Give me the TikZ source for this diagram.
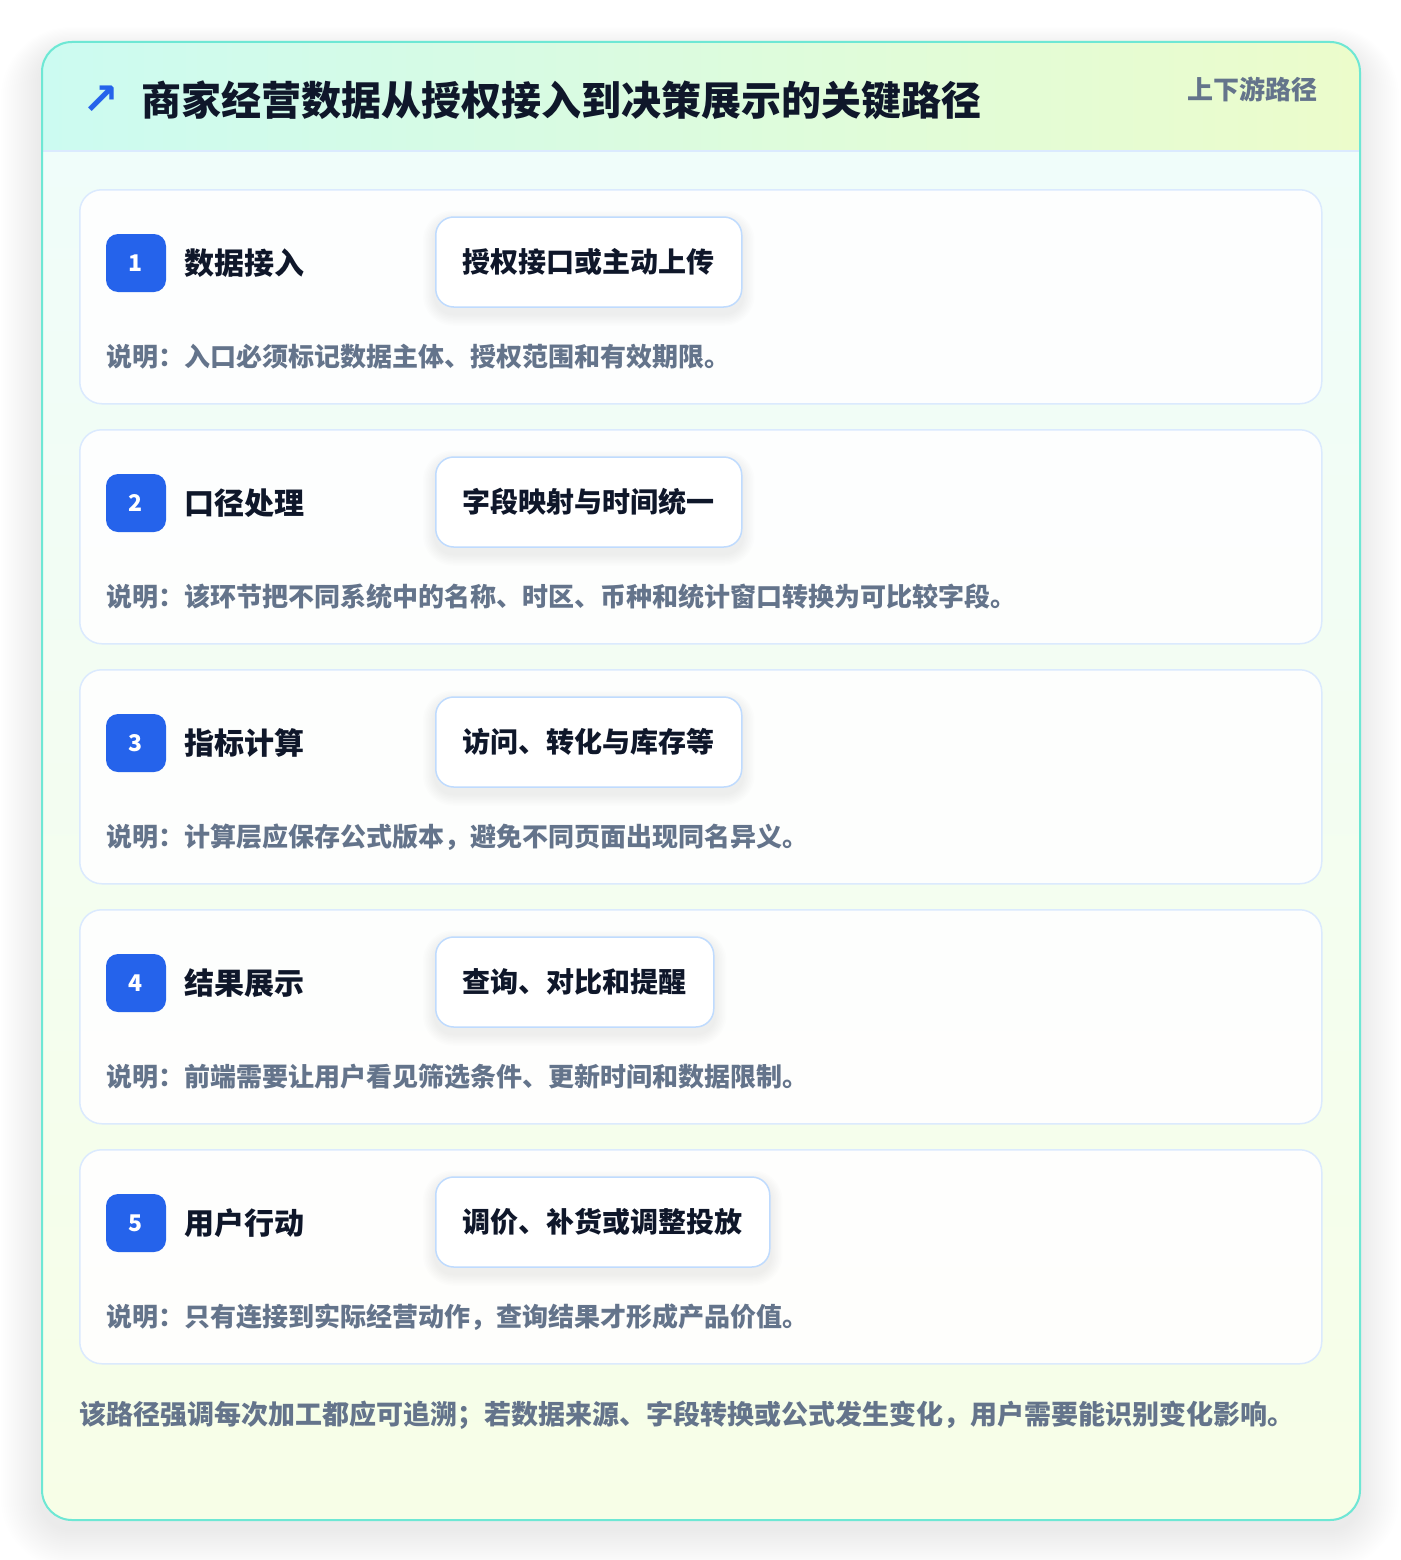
\documentclass[tikz,border=0pt]{standalone}
\usepackage{fontspec}
\setmainfont{Noto Sans CJK SC}
\newfontfamily\symfont{DejaVu Sans}
\usetikzlibrary{calc}
\definecolor{outerborder}{HTML}{6EE7D4}
\definecolor{headL}{HTML}{CCFBF1}
\definecolor{headR}{HTML}{ECFCCB}
\definecolor{bodyT}{HTML}{F0FDFA}
\definecolor{bodyB}{HTML}{F7FEE7}
\definecolor{cardborder}{HTML}{DBEAFE}
\definecolor{pillborder}{HTML}{BFDBFE}
\definecolor{badgeblue}{HTML}{2563EB}
\definecolor{darktext}{HTML}{0F172A}
\definecolor{graytext}{HTML}{64748B}
\tikzset{
  cardbox/.style={draw=cardborder, line width=1.5pt, fill=white, fill opacity=0.9, draw opacity=1, rounded corners=22pt, minimum width=1242pt, minimum height=214pt, anchor=north west, inner sep=0pt},
  badgebox/.style={fill=badgeblue, rounded corners=12pt, minimum width=60pt, minimum height=58pt, inner sep=0pt, text=white, font=\bfseries\fontsize{23}{26}\selectfont},
  steptitle/.style={anchor=west, inner sep=0pt, text=darktext, font=\bfseries\fontsize{30}{36}\selectfont},
  pillbox/.style={draw=pillborder, line width=1.5pt, fill=white, rounded corners=18pt, minimum height=90pt, inner xsep=27pt, anchor=west, text=darktext, font=\bfseries\fontsize{28}{34}\selectfont},
  desctext/.style={anchor=west, inner sep=0pt, text=graytext, font=\bfseries\fontsize{26}{30}\selectfont},
}
\begin{document}
\begin{tikzpicture}[x=1pt,y=-1pt]
\useasboundingbox (0,0) rectangle (1400,1560);
\fill[white] (0,0) rectangle (1400,1560);
% outer shadow
\foreach \k in {1,...,20}{
  \fill[black, opacity=0.005, rounded corners=30pt+\k*2pt] (41-\k*2,41-\k*1.2+10) rectangle (1359+\k*2,1519+\k*2+10);
}
% outer card background
\begin{scope}
  \clip[rounded corners=30pt] (41,41) rectangle (1359,1519);
  \shade[left color=headL, right color=headR] (41,41) rectangle (1359,151);
  \shade[top color=bodyT, bottom color=bodyB] (41,151) rectangle (1359,1519);
  \draw[cardborder, line width=1.5pt] (41,151) -- (1359,151);
\end{scope}
\node[draw=outerborder, line width=2pt, rounded corners=30pt, minimum width=1318pt, minimum height=1478pt, anchor=north west, inner sep=0pt] (outer) at (41,41) {};
% header
\node[anchor=center, inner sep=0pt, text=badgeblue, font=\symfont\bfseries\fontsize{44}{48}\selectfont] (arrow) at (101,100) {↗};
\node[anchor=west, inner sep=0pt, text=darktext, font=\bfseries\fontsize{40}{48}\selectfont] (title) at (141,100) {商家经营数据从授权接入到决策展示的关键路径};
\node[anchor=east, inner sep=0pt, text=graytext, font=\bfseries\fontsize{26}{30}\selectfont] (tag) at (1318,89) {上下游路径};
% cards
\foreach \i/\ttl/\pl/\desc in {
  1/数据接入/授权接口或主动上传/说明：入口必须标记数据主体、授权范围和有效期限。,
  2/口径处理/字段映射与时间统一/说明：该环节把不同系统中的名称、时区、币种和统计窗口转换为可比较字段。,
  3/指标计算/访问、转化与库存等/说明：计算层应保存公式版本，避免不同页面出现同名异义。,
  4/结果展示/查询、对比和提醒/说明：前端需要让用户看见筛选条件、更新时间和数据限制。,
  5/用户行动/调价、补货或调整投放/说明：只有连接到实际经营动作，查询结果才形成产品价值。}{
  \pgfmathsetmacro{\top}{189+(\i-1)*240}
  \node[cardbox] (c\i) at (79,\top) {};
  \node[badgebox] (b\i) at (136,\top+74) {\i};
  \node[steptitle] (t\i) at (184,\top+74) {\ttl};
  \node[pillbox, draw=none, fill=none, text opacity=0] (q\i) at (435,\top+73) {\pl};
  \foreach \s in {1,...,8}{
    \fill[badgeblue!40!black, opacity=0.006, rounded corners=18pt+\s*1.5pt] ($(q\i.north west)+(-\s*1.5,-\s*1.5+6)$) rectangle ($(q\i.south east)+(\s*1.5,\s*1.5+6)$);
  }
  \node[pillbox] (p\i) at (435,\top+73) {\pl};
  \node[desctext] (d\i) at (106,\top+168) {\desc};
}
\node[anchor=west, inner sep=0pt, text=graytext, font=\bfseries\fontsize{27}{32}\selectfont] (footer) at (79,1415) {该路径强调每次加工都应可追溯；若数据来源、字段转换或公式发生变化，用户需要能识别变化影响。};
\end{tikzpicture}
\end{document}
